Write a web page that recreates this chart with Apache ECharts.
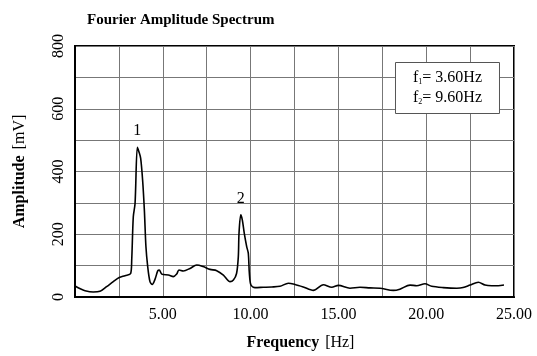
<!DOCTYPE html>
<html>
<head>
<meta charset="utf-8">
<script src="https://cdn.jsdelivr.net/npm/echarts@6/dist/echarts.min.js"></script>
<style>
  html, body { margin: 0; padding: 0; background: #fff; }
  #chart { width: 537px; height: 356px; }
</style>
</head>
<body>
<div id="chart"></div>
<script>
// spectrum: frequency [Hz] and amplitude [mV]
var freq = [0, 0.3, 0.57, 1.04, 1.42, 1.8, 2.18, 2.52, 2.85, 3.17, 3.23, 3.32, 3.42, 3.55, 3.64, 3.74, 3.85, 3.95,
  4.04, 4.14, 4.27, 4.4, 4.56, 4.71, 4.8, 4.94, 5.32, 5.6, 5.79, 5.92, 6.17, 6.55, 6.93, 7.3, 7.69, 8.07,
  8.45, 8.83, 9.02, 9.2, 9.3, 9.34, 9.44, 9.53, 9.64, 9.78, 9.87, 9.93, 10.02, 10.25, 10.72, 11.2, 11.67,
  12.15, 12.53, 13.0, 13.57, 14.14, 14.62, 15.0, 15.66, 16.23, 16.8, 17.37, 18.13, 18.5, 19.08, 19.46,
  19.93, 20.31, 20.97, 21.74, 22.1, 22.5, 22.97, 23.35, 23.73, 24.1, 24.43]
var amp = [35, 26, 20, 16, 18, 33, 49, 62, 68, 75, 118, 256, 298, 477, 463, 442, 373, 277,
  160, 97, 49, 40, 57, 83, 86, 73, 70, 65, 73, 86, 83, 91, 102, 97, 88, 84,
  70, 49, 54, 75, 128, 203, 262, 245, 203, 160, 139, 75, 38, 30, 31, 32, 34,
  44, 40, 32, 21, 39, 31, 37, 28, 31, 29, 28, 21, 25, 38, 36,
  42, 34, 30, 28, 30, 38, 47, 38, 36, 36, 38]

var peakFreq = [3.55, 9.44]
var peakAmp = [477, 262]
var peakNames = ['1', '2']

var xMin = 0, xMax = 25, xStep = 2.5
var yMin = 0, yMax = 800, yStep = 100

var serif = '"Liberation Serif", "Times New Roman", serif'

var chart = echarts.init(document.getElementById('chart'))
chart.setOption({
  animation: false,
  textStyle: { fontFamily: serif },
  title: [{
    text: 'Fourier Amplitude Spectrum',
    left: 82,
    top: 8,
    textStyle: { fontFamily: serif, fontSize: 15, fontWeight: 'bold', color: '#000' }
  }, {
    // the f1 / f2 note box
    text: '{t|f}{s|1}{t|= 3.60Hz}\n{t|f}{s|2}{t|= 9.60Hz}',
    right: 37,
    top: 60,
    padding: [8, 18, 8, 18],
    borderColor: '#555',
    borderWidth: 1,
    backgroundColor: '#fff',
    textStyle: {
      fontWeight: 'normal',
      rich: {
        t: { fontFamily: serif, fontSize: 16, fontWeight: 'normal', color: '#000', lineHeight: 20 },
        s: { fontFamily: serif, fontSize: 8, fontWeight: 'normal', color: '#000', padding: [7, 0, 0, 0], lineHeight: 20 }
      }
    }
  }],
  grid: {
    left: 75, right: 23, top: 46, bottom: 58,
    show: true, borderColor: '#000', borderWidth: 2
  },
  xAxis: {
    type: 'value',
    min: xMin, max: xMax, interval: xStep,
    name: '{b|Frequency}  {n|[Hz]}',
    nameLocation: 'middle',
    nameGap: 38,
    nameTextStyle: {
      rich: {
        b: { fontFamily: serif, fontSize: 16, fontWeight: 'bold', color: '#000' },
        n: { fontFamily: serif, fontSize: 16, color: '#000' }
      },
      padding: [0, 0, 0, 12]
    },
    axisLine: { lineStyle: { color: '#000', width: 2 } },
    axisTick: { show: false },
    axisLabel: {
      color: '#000', fontFamily: serif, fontSize: 16, margin: 10,
      formatter: function (v) { return (v > 0 && v % 5 === 0) ? v.toFixed(2) : '' }
    },
    splitLine: { show: true, lineStyle: { color: '#777', width: 1 } }
  },
  yAxis: {
    type: 'value',
    min: yMin, max: yMax, interval: yStep,
    name: '{b|Amplitude}  {n|[mV]}',
    nameLocation: 'middle',
    nameGap: 47,
    nameRotate: 90,
    nameTextStyle: {
      rich: {
        b: { fontFamily: serif, fontSize: 16, fontWeight: 'bold', color: '#000' },
        n: { fontFamily: serif, fontSize: 16, color: '#000' }
      }
    },
    axisLine: { show: true, lineStyle: { color: '#000', width: 2 } },
    axisTick: { show: false },
    axisLabel: {
      color: '#000', fontFamily: serif, fontSize: 16, rotate: 90, margin: 8,
      formatter: function (v) { return v % 200 === 0 ? String(v) : '' }
    },
    splitLine: { show: true, lineStyle: { color: '#777', width: 1 } }
  },
  series: [{
    type: 'line',
    data: freq.map(function (f, i) { return [f, amp[i]] }),
    showSymbol: false,
    smooth: 0.3,
    lineStyle: { color: '#000', width: 1.6 },
    markPoint: {
      symbol: 'circle',
      symbolSize: 1,
      itemStyle: { color: 'transparent' },
      label: {
        show: true, position: 'top', distance: 8,
        color: '#000', fontFamily: serif, fontSize: 16,
        formatter: function (p) { return p.name }
      },
      data: peakFreq.map(function (f, i) {
        return { name: peakNames[i], coord: [f, peakAmp[i]] }
      })
    }
  }]
})
</script>
</body>
</html>
